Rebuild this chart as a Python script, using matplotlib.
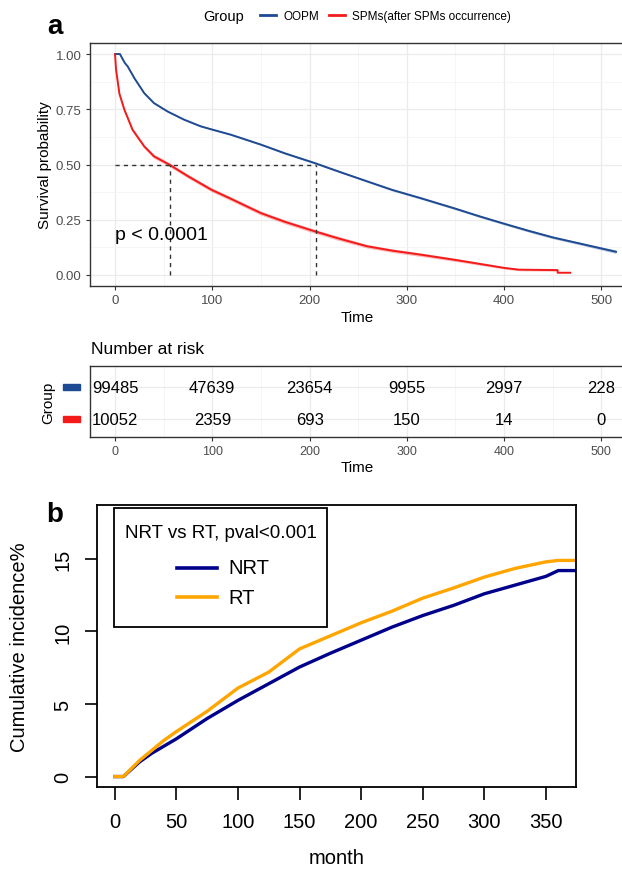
import matplotlib
matplotlib.use("Agg")
import matplotlib.pyplot as plt
from matplotlib.lines import Line2D
from matplotlib.patches import Rectangle

plt.rcParams['font.family'] = ['Liberation Sans', 'DejaVu Sans']

# panel a: survival curves
oopm_t = [0, 5, 10, 13, 20, 30, 40, 54, 71, 88, 100, 119, 150, 175, 205, 230,
          259, 285, 314, 350, 375, 400, 425, 450, 475, 500, 515]
oopm_s = [1.0, 1.0, 0.96, 0.944, 0.89, 0.823, 0.778, 0.74, 0.703, 0.673,
          0.658, 0.635, 0.59, 0.55, 0.507, 0.468, 0.424, 0.385, 0.348, 0.30,
          0.265, 0.232, 0.20, 0.17, 0.145, 0.12, 0.105]
oopm_ci = [0.0, 0.0, 0.002, 0.002, 0.003, 0.003, 0.003, 0.003, 0.003, 0.003,
           0.003, 0.003, 0.004, 0.004, 0.004, 0.004, 0.004, 0.005, 0.005, 0.005,
           0.005, 0.005, 0.006, 0.006, 0.006, 0.007, 0.008]

spm_t = [0, 1, 4.5, 9.6, 18, 30, 40, 56, 75, 99, 119, 150, 175, 205, 230, 259,
         285, 314, 350, 375, 400, 415, 455, 455, 468]
spm_s = [1.0, 0.93, 0.82, 0.748, 0.657, 0.582, 0.537, 0.499, 0.447, 0.386,
         0.345, 0.28, 0.24, 0.198, 0.165, 0.13, 0.11, 0.092, 0.068, 0.05,
         0.032, 0.024, 0.022, 0.01, 0.01]
spm_ci = [0.0, 0.005, 0.006, 0.007, 0.008, 0.008, 0.009, 0.009, 0.009, 0.009,
          0.009, 0.009, 0.009, 0.009, 0.009, 0.008, 0.008, 0.008, 0.007, 0.006,
          0.005, 0.005, 0.005, 0.0, 0.0]

medians = [56, 207]
risk_times = [0, 100, 200, 300, 400, 500]
risk_oopm = [99485, 47639, 23654, 9955, 2997, 228]
risk_spm = [10052, 2359, 693, 150, 14, 0]

# panel b: cumulative incidence
months = [0, 7, 20, 30, 40, 50, 75, 100, 125, 150, 175, 200, 225, 250, 275,
          300, 325, 350, 360, 374]
nrt = [0, 0, 1.0, 1.6, 2.1, 2.6, 4.0, 5.25, 6.4, 7.55, 8.5, 9.4, 10.3, 11.1,
       11.8, 12.6, 13.2, 13.8, 14.2, 14.2]
rt = [0, 0, 1.1, 1.8, 2.5, 3.1, 4.5, 6.1, 7.2, 8.8, 9.7, 10.6, 11.4, 12.3,
      13.0, 13.75, 14.35, 14.8, 14.9, 14.9]

BLUE = '#1D4A92'
RED = '#F41A1A'
NAVY = '#00008B'
ORANGE = '#FFA500'
W, H = 622, 870

fig = plt.figure(figsize=(W / 100, H / 100), dpi=100)


def fbox(left, top, right, bottom):
    return [left / W, 1 - bottom / H, (right - left) / W, (bottom - top) / H]


def fx(x):
    return x / W


def fy(y):
    return 1 - y / H


def ggstyle(ax):
    for s in ax.spines.values():
        s.set_color('#333333')
        s.set_linewidth(1.0)
    ax.set_xticks(range(0, 501, 100))
    ax.set_xticks(range(50, 501, 100), minor=True)
    ax.grid(which='major', color='#EBEBEB', lw=0.9)
    ax.grid(which='minor', color='#F4F4F4', lw=0.6)
    ax.set_axisbelow(True)
    ax.tick_params(which='major', length=3, width=0.8, color='#333333',
                   labelcolor='#4D4D4D', labelsize=9.5, pad=3)
    ax.tick_params(which='minor', length=0)
    ax.set_xlim(-25.75, 540.75)


# ---- panel a
ax1 = fig.add_axes(fbox(90, 44, 641, 287))
ggstyle(ax1)
ax1.set_ylim(-0.05, 1.05)
ax1.set_yticks([0, 0.25, 0.5, 0.75, 1.0])
ax1.set_yticks([0.125, 0.375, 0.625, 0.875], minor=True)
ax1.set_yticklabels(['0.00', '0.25', '0.50', '0.75', '1.00'])

lo = [s - c for s, c in zip(oopm_s, oopm_ci)]
hi = [s + c for s, c in zip(oopm_s, oopm_ci)]
ax1.fill_between(oopm_t, lo, hi, color=BLUE, alpha=0.3, lw=0)
lo = [s - c for s, c in zip(spm_s, spm_ci)]
hi = [s + c for s, c in zip(spm_s, spm_ci)]
ax1.fill_between(spm_t, lo, hi, color=RED, alpha=0.3, lw=0)
ax1.plot(oopm_t, oopm_s, color=BLUE, lw=1.4)
ax1.plot(spm_t, spm_s, color=RED, lw=1.4)

ax1.plot([0, medians[1]], [0.5, 0.5], color='#333333', lw=1, ls=(0, (3, 3)))
for m in medians:
    ax1.plot([m, m], [0, 0.5], color='#333333', lw=1, ls=(0, (3, 3)))
ax1.text(0, 0.185, 'p < 0.0001', fontsize=14, ha='left', va='center')
ax1.set_xlabel('Time', fontsize=11)
ax1.xaxis.set_label_coords((357 - 90) / 551, -0.1)
ax1.set_ylabel('Survival probability', fontsize=11)
ax1.yaxis.set_label_coords(-0.069, 0.5)

fig.text(fx(224), fy(17), 'Group', fontsize=10.5, ha='center', va='center')
handles = [Line2D([], [], color=BLUE, lw=2), Line2D([], [], color=RED, lw=2)]
fig.legend(handles, ['OOPM', 'SPMs(after SPMs occurrence)'], ncol=2,
           loc='center left', bbox_to_anchor=(fx(255), fy(17)),
           frameon=False, fontsize=8.5, handlelength=1.4, handletextpad=0.6,
           columnspacing=0.8, borderaxespad=0)
fig.text(fx(55), fy(27), 'a', fontsize=20, fontweight='bold',
         ha='center', va='center')

# ---- risk table
ax2 = fig.add_axes(fbox(90, 367, 641, 438))
ggstyle(ax2)
ax2.set_ylim(0.44, 2.66)
ax2.set_yticks([1, 2])
ax2.set_yticklabels([])
ax2.tick_params(axis='y', length=0)
ax2.tick_params(axis='x', labelsize=9)
for t, a, b in zip(risk_times, risk_oopm, risk_spm):
    ax2.text(t, 2, str(a), fontsize=12, ha='center', va='center')
    ax2.text(t, 1, str(b), fontsize=12, ha='center', va='center')
ax2.set_xlabel('Time', fontsize=11)
ax2.xaxis.set_label_coords((357 - 90) / 551, -0.33)
fig.text(fx(91), fy(350), 'Number at risk', fontsize=12.5,
         ha='left', va='center')
fig.text(fx(48), fy(403), 'Group', fontsize=11, rotation=90,
         ha='center', va='center')
for yc, col in [(388, BLUE), (420, RED)]:
    fig.patches.append(Rectangle((fx(63), fy(yc + 3)), 17 / W, 6 / H,
                                 color=col, transform=fig.transFigure))

# ---- panel b
ax3 = fig.add_axes(fbox(97, 506, 576, 788))
ax3.plot(months, nrt, color=NAVY, lw=2.4)
ax3.plot(months, rt, color=ORANGE, lw=2.4)
ax3.set_xlim(-14.4, 374.4)
ax3.set_ylim(-0.72, 18.72)
ax3.set_xticks(range(0, 351, 50))
ax3.set_yticks([0, 5, 10, 15])
for s in ax3.spines.values():
    s.set_linewidth(1.3)
ax3.tick_params(length=9, width=1.2, labelsize=14.5)
ax3.tick_params(axis='x', pad=9)
ax3.tick_params(axis='y', pad=9)
for lab in ax3.get_yticklabels():
    lab.set_rotation(90)
    lab.set_va('center')
ax3.set_xlabel('month', fontsize=14.5, labelpad=12)
ax3.set_ylabel('Cumulative incidence%', fontsize=14.5)
ax3.yaxis.set_label_coords((29 - 97) / 479, 0.5)

# legend box drawn like base R's legend()
fig.patches.append(Rectangle((fx(114), fy(628)), 213 / W, 119 / H,
                             facecolor='white', edgecolor='black', lw=1.3,
                             transform=fig.transFigure, zorder=5))
fig.text(fx(220.5), fy(533), 'NRT vs RT, pval<0.001', fontsize=13.5,
         ha='center', va='center', zorder=6)
for yc, col, lab in [(569, NAVY, 'NRT'), (598, ORANGE, 'RT')]:
    fig.lines.append(Line2D([fx(177), fx(217)], [fy(yc), fy(yc)], color=col,
                            lw=2.6, transform=fig.transFigure, zorder=6))
    fig.text(fx(228), fy(yc), lab, fontsize=14.5, ha='left', va='center',
             zorder=6)
fig.text(fx(55), fy(515), 'b', fontsize=20, fontweight='bold',
         ha='center', va='center')

fig.savefig('out.png', dpi=100)
